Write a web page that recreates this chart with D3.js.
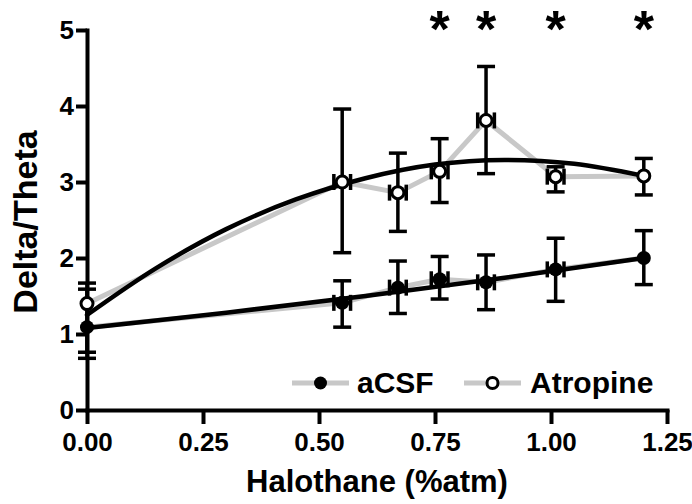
<!DOCTYPE html>
<html>
<head>
<meta charset="utf-8">
<script src="https://cdn.jsdelivr.net/npm/d3@7"></script>
<style>
  html, body { margin: 0; padding: 0; background: #fff; }
  svg { display: block; }
  text { font-family: "Liberation Sans", Arial, Helvetica, sans-serif; font-weight: bold; fill: #000; }
</style>
</head>
<body>
<script>
// ---- data ----
const doses      = [0, 0.55, 0.67, 0.76, 0.86, 1.01, 1.2];
const doseErr    = [0, 0.018, 0.018, 0.018, 0.018, 0.018, 0];

const acsfMean   = [1.09, 1.41, 1.61, 1.72, 1.68, 1.85, 2.00];
const acsfHi     = [1.59, 1.70, 1.96, 2.02, 2.04, 2.26, 2.36];
const acsfLo     = [0.68, 1.09, 1.27, 1.46, 1.32, 1.43, 1.65];

const atroMean   = [1.40, 3.00, 2.86, 3.14, 3.81, 3.07, 3.08];
const atroHi     = [1.67, 3.96, 3.38, 3.57, 4.52, 3.20, 3.31];
const atroLo     = [0.76, 2.07, 2.35, 2.73, 3.11, 2.87, 2.83];

// fitted curves
const acsfFitX   = [0, 0.30, 0.60, 0.90, 1.20];
const acsfFitY   = [1.08, 1.28, 1.50, 1.74, 2.00];
const atroFitX   = [0, 0.15, 0.30, 0.45, 0.60, 0.75, 0.90, 1.05, 1.20];
const atroFitY   = [1.25, 1.87, 2.38, 2.77, 3.05, 3.23, 3.29, 3.24, 3.08];

const sigDoses   = [0.76, 0.86, 1.01, 1.2];
const xTicks     = [0, 0.25, 0.5, 0.75, 1.0, 1.25];
const yTicks     = [0, 1, 2, 3, 4, 5];
const seriesNames = ["aCSF", "Atropine"];

// ---- layout ----
const W = 692, H = 504;
const svg = d3.select("body").append("svg").attr("width", W).attr("height", H);
svg.append("rect").attr("width", W).attr("height", H).attr("fill", "#fff");

const x = d3.scaleLinear().domain([0, 1.25]).range([87, 667]);
const y = d3.scaleLinear().domain([0, 5]).range([410, 30]);

// axes
const xAxis = svg.append("g").attr("transform", `translate(0,${y(0)})`)
  .call(d3.axisBottom(x).tickValues(xTicks).tickFormat(d3.format(".2f"))
        .tickSize(14).tickSizeOuter(0).tickPadding(9));
const yAxis = svg.append("g").attr("transform", `translate(${x(0)},0)`)
  .call(d3.axisLeft(y).tickValues(yTicks).tickFormat(d3.format("d"))
        .tickSize(11).tickSizeOuter(0).tickPadding(2));
[xAxis, yAxis].forEach(g => {
  g.select(".domain").attr("stroke", "#000").attr("stroke-width", 4).attr("stroke-linecap", "square");
  g.selectAll(".tick line").attr("stroke", "#000").attr("stroke-width", 4);
  g.selectAll(".tick text").style("font-size", "26px").style("font-weight", "bold")
    .style("font-family", '"Liberation Sans", Arial, sans-serif').attr("fill", "#000");
});

// axis titles
svg.append("text").attr("x", 377).attr("y", 492).attr("text-anchor", "middle")
  .style("font-size", "31px").text("Halothane (%atm)");
svg.append("text").attr("transform", "translate(37,222) rotate(-90)").attr("text-anchor", "middle")
  .style("font-size", "34px").text("Delta/Theta");

// grey connecting lines
const line = d3.line().x(d => x(d[0])).y(d => y(d[1]));
const acsfPts = doses.map((d, i) => [d, acsfMean[i]]);
const atroPts = doses.map((d, i) => [d, atroMean[i]]);
[acsfPts, atroPts].forEach(p => {
  svg.append("path").attr("d", line(p)).attr("fill", "none")
    .attr("stroke", "#c8c8c8").attr("stroke-width", 5).attr("stroke-linejoin", "round");
});

// fitted curves
const curve = d3.line().x(d => x(d[0])).y(d => y(d[1])).curve(d3.curveCatmullRom.alpha(0.5));
[[acsfFitX, acsfFitY], [atroFitX, atroFitY]].forEach(([fx, fy]) => {
  svg.append("path").attr("d", curve(fx.map((v, i) => [v, fy[i]]))).attr("fill", "none")
    .attr("stroke", "#000").attr("stroke-width", 4.5).attr("stroke-linecap", "round");
});

// error bars
function errorBars(mean, lo, hi) {
  const g = svg.append("g").attr("stroke", "#000").attr("stroke-width", 3.5);
  doses.forEach((d, i) => {
    const cx = x(d);
    g.append("line").attr("x1", cx).attr("x2", cx).attr("y1", y(lo[i])).attr("y2", y(hi[i]));
    [lo[i], hi[i]].forEach(v => g.append("line").attr("x1", cx - 9).attr("x2", cx + 9)
      .attr("y1", y(v)).attr("y2", y(v)));
    if (doseErr[i] > 0) {
      const x1 = x(d - doseErr[i]), x2 = x(d + doseErr[i]), cy = y(mean[i]);
      g.append("line").attr("x1", x1).attr("x2", x2).attr("y1", cy).attr("y2", cy);
      [x1, x2].forEach(xx => g.append("line").attr("x1", xx).attr("x2", xx)
        .attr("y1", cy - 8).attr("y2", cy + 8));
    }
  });
}
errorBars(atroMean, atroLo, atroHi);
errorBars(acsfMean, acsfLo, acsfHi);

// markers
svg.append("g").selectAll("circle").data(atroPts).join("circle")
  .attr("cx", d => x(d[0])).attr("cy", d => y(d[1])).attr("r", 6)
  .attr("fill", "#fff").attr("stroke", "#000").attr("stroke-width", 3);
svg.append("g").selectAll("circle").data(acsfPts).join("circle")
  .attr("cx", d => x(d[0])).attr("cy", d => y(d[1])).attr("r", 7).attr("fill", "#000");

// significance asterisks
svg.append("g").selectAll("text").data(sigDoses).join("text")
  .attr("x", d => x(d)).attr("y", 47).attr("text-anchor", "middle")
  .style("font-size", "52px").text("*");

// legend
const legend = [
  { name: seriesNames[0], x0: 292, filled: true, tx: 357 },
  { name: seriesNames[1], x0: 464, filled: false, tx: 530 }
];
legend.forEach(l => {
  svg.append("line").attr("x1", l.x0).attr("x2", l.x0 + 57).attr("y1", 383).attr("y2", 383)
    .attr("stroke", "#c8c8c8").attr("stroke-width", 5);
  const c = svg.append("circle").attr("cx", l.x0 + 28.5).attr("cy", 383);
  if (l.filled) c.attr("r", 6.5).attr("fill", "#000");
  else c.attr("r", 5.5).attr("fill", "#fff").attr("stroke", "#000").attr("stroke-width", 3);
  svg.append("text").attr("x", l.tx).attr("y", 393).style("font-size", "30px").text(l.name);
});
</script>
</body>
</html>
